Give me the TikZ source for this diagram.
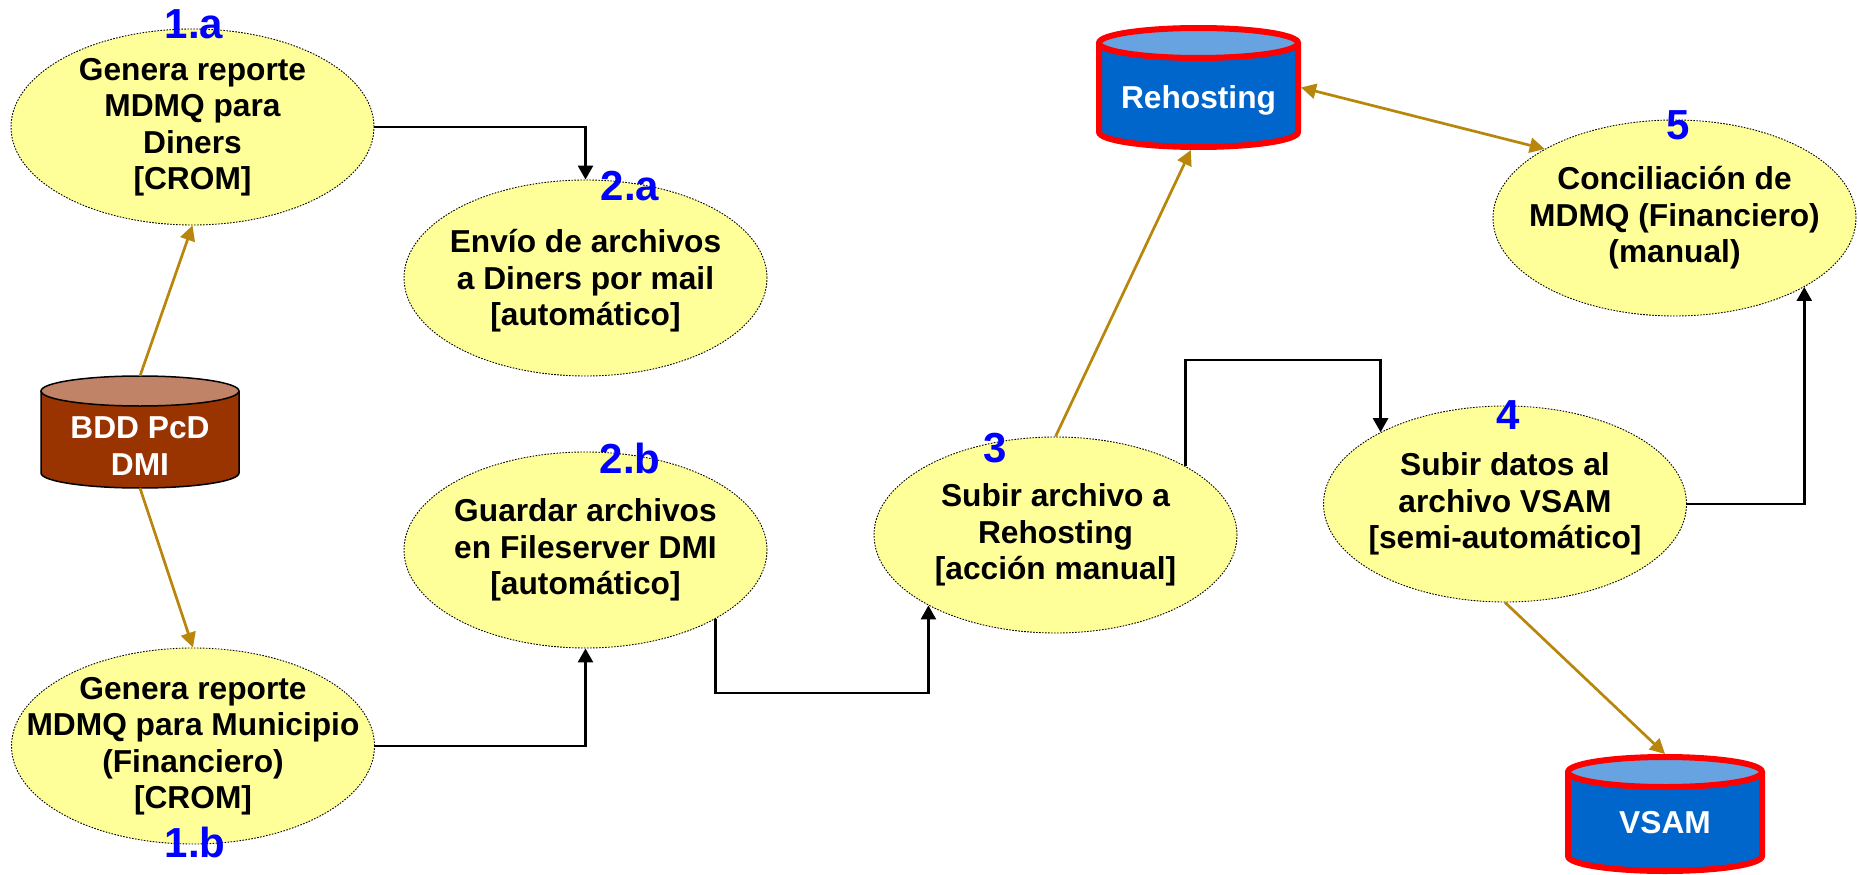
\documentclass[tikz,border=0pt]{standalone}
\usepackage{fontspec}
\setmainfont{Liberation Sans}
\usetikzlibrary{arrows.meta,shapes.geometric}
\definecolor{ellfill}{HTML}{FFFF99}
\definecolor{gold}{HTML}{B8860B}
\definecolor{lblblue}{HTML}{0000FF}
\definecolor{bddbody}{HTML}{993300}
\definecolor{bddlid}{RGB}{193,131,104}
\definecolor{rhbody}{HTML}{0066CC}
\definecolor{rhlid}{RGB}{102,163,224}
\definecolor{rhborder}{HTML}{FF0000}
\begin{document}
\begin{tikzpicture}[x=1pt,y=1pt,
  proc/.style={ellipse, draw=black, line width=0.9pt, dash pattern=on 1.6pt off 1.4pt,
    fill=ellfill, minimum width=363pt, minimum height=196pt, inner sep=0pt},
  proctext/.style={align=center, inner sep=0pt,
    font=\fontsize{31.7}{36.5}\selectfont\bfseries},
  numlbl/.style={text=lblblue, font=\fontsize{42}{42}\selectfont\bfseries, inner sep=0pt},
  cyltext/.style={text=white, align=center, font=\fontsize{31.7}{37}\selectfont\bfseries, inner sep=0pt},
  cylbox/.style={rectangle, inner sep=0pt, outer sep=0pt},
  flowblk/.style={draw=black, line width=2.7pt, -{Triangle[length=14pt,width=15pt]}},
  flowgold/.style={draw=gold, line width=2.7pt, -{Triangle[length=15pt,width=15pt]}},
  flowgoldboth/.style={draw=gold, line width=2.7pt, {Triangle[length=15pt,width=15pt]}-{Triangle[length=15pt,width=15pt]}},
]
\fill[white] (0,0) rectangle (1858,-875);
\path[use as bounding box] (0,0) rectangle (1858,-875);

% ---------- cylinders ----------
% BDD PcD DMI
\fill[bddbody] (41,-391) -- (41,-473) arc[start angle=180,end angle=360,x radius=99pt,y radius=15pt] -- (239,-391) -- cycle;
\draw[line width=1.5pt] (41,-391) -- (41,-473) arc[start angle=180,end angle=360,x radius=99pt,y radius=15pt] -- (239,-391);
\filldraw[fill=bddlid, draw=black, line width=1.5pt] (140,-391) ellipse[x radius=99pt, y radius=15pt];
\node[cylbox, minimum width=198pt, minimum height=112pt] (bdd) at (140,-432) {};
\node[cyltext] (bddt) at (140,-446) {BDD PcD\\DMI};

% Rehosting
\fill[rhbody] (1099,-43) -- (1099,-132) arc[start angle=180,end angle=360,x radius=99.5pt,y radius=15pt] -- (1298,-43) -- cycle;
\draw[rhborder, line width=6pt] (1099,-43) -- (1099,-132) arc[start angle=180,end angle=360,x radius=99.5pt,y radius=15pt] -- (1298,-43);
\filldraw[fill=rhlid, draw=rhborder, line width=6pt] (1198.5,-43) ellipse[x radius=99.5pt, y radius=15pt];
\node[cylbox, minimum width=205pt, minimum height=125pt] (rh) at (1198.5,-87.5) {};
\node[cyltext] (rht) at (1198.5,-100) {Rehosting};

% VSAM
\fill[rhbody] (1568,-772) -- (1568,-856) arc[start angle=180,end angle=360,x radius=97pt,y radius=15pt] -- (1762,-772) -- cycle;
\draw[rhborder, line width=6pt] (1568,-772) -- (1568,-856) arc[start angle=180,end angle=360,x radius=97pt,y radius=15pt] -- (1762,-772);
\filldraw[fill=rhlid, draw=rhborder, line width=6pt] (1665,-772) ellipse[x radius=97pt, y radius=15pt];
\node[cylbox, minimum width=200pt, minimum height=120pt] (vs) at (1665,-814) {};
\node[cyltext] (vst) at (1665,-823) {VSAM};

% ---------- process ellipses ----------
\node[proc] (e1a) at (192.5,-127) {};
\node[proc] (e2a) at (585.5,-278) {};
\node[proc] (e1b) at (193,-746) {};
\node[proc] (e2b) at (585.5,-550) {};
\node[proc] (e3) at (1055.5,-535) {};
\node[proc] (e4) at (1505,-504) {};
\node[proc] (e5) at (1674.5,-218) {};

\node[proctext] (t1a) at (e1a.center) {Genera reporte\\MDMQ para\\Diners\\{[CROM]}};
\node[proctext] (t2a) at ([yshift=-3pt]e2a.center) {Envío de archivos\\a Diners por mail\\{[automático]}};
\node[proctext] (t1b) at (e1b.center) {Genera reporte\\MDMQ para Municipio\\(Financiero)\\{[CROM]}};
\node[proctext] (t2b) at (e2b.center) {Guardar archivos\\en Fileserver DMI\\{[automático]}};
\node[proctext] (t3) at (e3.center) {Subir archivo a\\Rehosting\\{[acción manual]}};
\node[proctext] (t4) at (e4.center) {Subir datos al\\archivo VSAM\\{[semi-automático]}};
\node[proctext] (t5) at (e5.center) {Conciliación de\\MDMQ (Financiero)\\(manual)};

% ---------- connectors ----------
\draw[flowblk] (e1a.east) -| (e2a.north);
\draw[flowblk] (e1b.east) -| (e2b.south);
\draw[flowblk] (e2b.-28.1) -- ++(0,-74) -| (e3.-151.8);
\draw[flowblk] (e3.28.8) -- ++(0,106) -| (e4.150.75);
\draw[flowblk] (e4.east) -| (e5.-28.6);

\draw[flowgold] (bdd.north) -- (e1a.south);
\draw[flowgold] (bdd.south) -- (e1b.north);
\draw[flowgold] (e3.north) -- (rh.-97);
\draw[flowgoldboth] (rh.east) -- (e5.152.3);
\draw[flowgold] (e4.south) -- (vs.north);

% ---------- step labels ----------
\node[numlbl] (l1a) at (194,-24.5) {1.a};
\node[numlbl] (l2a) at (630,-186) {2.a};
\node[numlbl] (l1b) at (195,-842) {1.b};
\node[numlbl] (l2b) at (630,-458) {2.b};
\node[numlbl] (l3) at (995,-448) {3};
\node[numlbl] (l4) at (1508,-415) {4};
\node[numlbl] (l5) at (1678,-125) {5};
\end{tikzpicture}
\end{document}
